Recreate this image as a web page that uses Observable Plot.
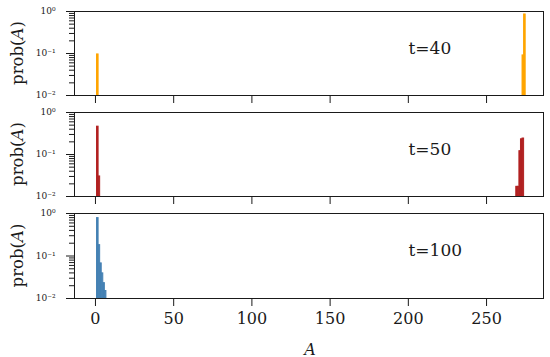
<!DOCTYPE html>
<html>
<head>
<meta charset="utf-8">
<script src="https://cdn.jsdelivr.net/npm/d3@7"></script>
<script src="https://cdn.jsdelivr.net/npm/@observablehq/plot@0.6"></script>
<style>
  html, body { margin: 0; padding: 0; background: #fff; }
  #chart { position: relative; width: 550px; height: 357px; background: #fff; }
  #chart svg { position: absolute; left: 0; }
</style>
</head>
<body>
<div id="chart"></div>
<script>
// ---- data ----
const A_t40 = [1, 273, 274];
const prob_t40 = [0.095, 0.09, 0.85];

const A_t50 = [1, 2, 269, 270, 271, 272, 273];
const prob_t50 = [0.46, 0.03, 0.017, 0.017, 0.12, 0.23, 0.24];

const A_t100 = [1, 2, 3, 4, 5, 6];
const prob_t100 = [0.78, 0.18, 0.067, 0.039, 0.023, 0.015];

const panelLabels = ["t=40", "t=50", "t=100"];
const panelColors = ["#FFA500", "#B22222", "#4682B4"];

const xTicks = [0, 50, 100, 150, 200, 250];
const yMajor = [0.01, 0.1, 1];
const yMajorLabels = ["10\u207B\u00B2", "10\u207B\u00B9", "10\u2070"];
const yMinor = [0.02,0.03,0.04,0.05,0.06,0.07,0.08,0.09,0.2,0.3,0.4,0.5,0.6,0.7,0.8,0.9];

const FONT = "DejaVu Serif";
const INK = "#1a1a1a";

const chart = document.getElementById("chart");

function panel(A, p, color, label, top, innerH, marginBottom, showX) {
  const data = A.map((a, i) => ({A: a, p: p[i]}));
  const mt = 10;
  const height = mt + innerH + marginBottom;
  const svg = Plot.plot({
    width: 550,
    height,
    marginLeft: 74,
    marginRight: 7,
    marginTop: mt,
    marginBottom,
    style: {fontFamily: FONT, background: "transparent", color: INK, overflow: "visible"},
    x: {domain: [-13.4, 286.4]},
    y: {type: "log", domain: [0.01, 1]},
    marks: [
      Plot.rect(data, {x1: "A", x2: d => d.A + 1, y1: 0.01, y2: "p", fill: color, stroke: color, strokeWidth: 1}),
      Plot.frame({stroke: INK, strokeWidth: 1}),
      Plot.axisY({ticks: yMinor, tickFormat: () => "", tickSize: 5, label: null}),
      Plot.axisY({ticks: yMajor, tickFormat: d => yMajorLabels[yMajor.indexOf(d)], tickSize: 8, tickPadding: 11, fontSize: 9, label: null}),
      Plot.axisX({ticks: xTicks, tickSize: 8, tickPadding: 6, fontSize: 16, tickFormat: showX ? d => String(d) : () => "", label: null}),
      Plot.text([label], {text: d => d, frameAnchor: "top-left", dx: 334, dy: 37, textAnchor: "start", lineAnchor: "middle", fontSize: 17, fill: INK})
    ]
  });
  svg.style.top = (top - mt) + "px";
  // y-axis label "prob(A)" with italic A
  const s = d3.select(svg);
  const cy = mt + innerH / 2;
  const t = s.append("text")
    .attr("transform", `translate(17,${cy}) rotate(-90)`)
    .attr("text-anchor", "middle")
    .attr("dominant-baseline", "central")
    .attr("font-family", FONT)
    .attr("font-size", 16.5)
    .attr("fill", INK);
  t.append("tspan").text("prob(");
  t.append("tspan").attr("font-style", "italic").text("A");
  t.append("tspan").text(")");
  if (showX) {
    s.append("text")
      .attr("x", 310)
      .attr("y", mt + innerH + 51)
      .attr("text-anchor", "middle")
      .attr("dominant-baseline", "central")
      .attr("font-family", FONT)
      .attr("font-size", 16)
      .attr("font-style", "italic")
      .attr("fill", INK)
      .text("A");
  }
  chart.appendChild(svg);
}

panel(A_t40, prob_t40, panelColors[0], panelLabels[0], 10.5, 84, 12, false);
panel(A_t50, prob_t50, panelColors[1], panelLabels[1], 111.5, 84, 12, false);
panel(A_t100, prob_t100, panelColors[2], panelLabels[2], 213, 85, 59, true);
</script>
</body>
</html>
